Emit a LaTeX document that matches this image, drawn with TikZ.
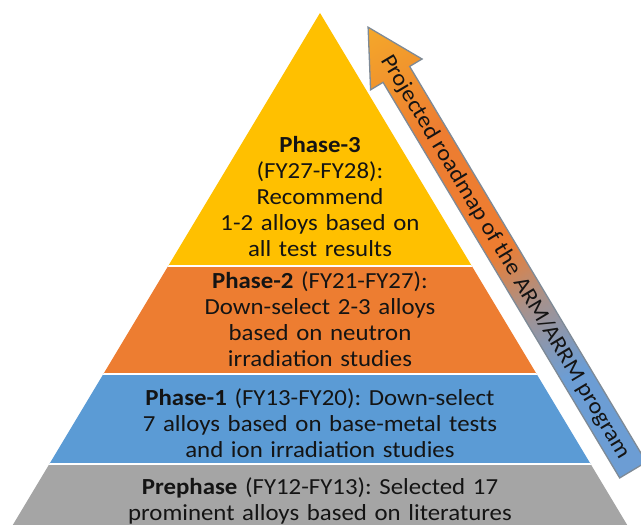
\documentclass[tikz,border=0pt]{standalone}
\usepackage{fontspec}
\setmainfont[FakeStretch=1.08]{Carlito}
\frenchspacing
\definecolor{pyellow}{HTML}{FFC000}
\definecolor{porange}{HTML}{ED7D31}
\definecolor{pblue}{HTML}{5B9BD5}
\definecolor{pgray}{HTML}{A5A5A5}
\definecolor{ablue}{HTML}{6C9DD4}
\definecolor{amid}{HTML}{A8918A}
\definecolor{atip}{HTML}{F4A82A}
\definecolor{aborder}{HTML}{7E8A96}
\definecolor{txtcol}{HTML}{141414}
\pgfdeclarehorizontalshading{arrowshade}{100bp}{color(0bp)=(ablue); color(25bp)=(ablue); color(36bp)=(ablue); color(44bp)=(amid); color(50bp)=(porange); color(63bp)=(porange); color(75bp)=(atip); color(100bp)=(atip)}
\tikzset{
  bandtext/.style={anchor=base, text width=440pt, align=center, inner sep=0pt,
    text=txtcol, font=\fontsize{23}{26}\selectfont},
  sepline/.style={white, line width=2.5pt},
  roadarrow/.style={draw=aborder, line width=1.3pt, shading=arrowshade},
  arrowtext/.style={inner sep=0pt, text=txtcol, font=\fontsize{22.5}{26}\selectfont}
}
\begin{document}
\begin{tikzpicture}[x=1pt,y=1pt]
\useasboundingbox (0,0) rectangle (641,525);
% pyramid bands
\begin{scope}
  \clip (320,512) -- (12.8,0) -- (627.2,0) -- cycle;
  \fill[pyellow] (0,259) rectangle (641,525);
  \fill[porange] (0,151) rectangle (641,259);
  \fill[pblue] (0,61) rectangle (641,151);
  \fill[pgray] (0,0) rectangle (641,61);
  \draw[sepline] (0,259) -- (641,259);
  \draw[sepline] (0,151) -- (641,151);
  \draw[sepline] (0,61) -- (641,61);
\end{scope}
% texts
\node[bandtext] (p3) at (320,372) {\textbf{Phase-3}\\(FY27-FY28):\\Recommend\\1-2 alloys based on\\all test results};
\node[bandtext] (p2) at (320,236) {\textbf{Phase-2} (FY21-FY27):\\Down-select 2-3 alloys\\based on neutron\\irradiation studies};
\node[bandtext] (p1) at (320,119) {\textbf{Phase-1} (FY13-FY20): Down-select\\7 alloys based on base-metal tests\\and ion irradiation studies};
\node[bandtext] (p0) at (320,30) {\textbf{Prephase} (FY12-FY13): Selected 17\\prominent alloys based on literatures};
% roadmap arrow
\begin{scope}[transform canvas={shift={(633pt,55pt)}, rotate=120.89}]
  \path[roadarrow] (0,-15.5) -- (461,-15.5) -- (461,-30) -- (516,0) -- (461,30) -- (461,15.5) -- (0,15.5) -- cycle;
  \node[arrowtext, rotate=180] (road) at (248.5,0.5) {Projected roadmap of the ARM/ARRM program};
\end{scope}
\end{tikzpicture}
\end{document}
